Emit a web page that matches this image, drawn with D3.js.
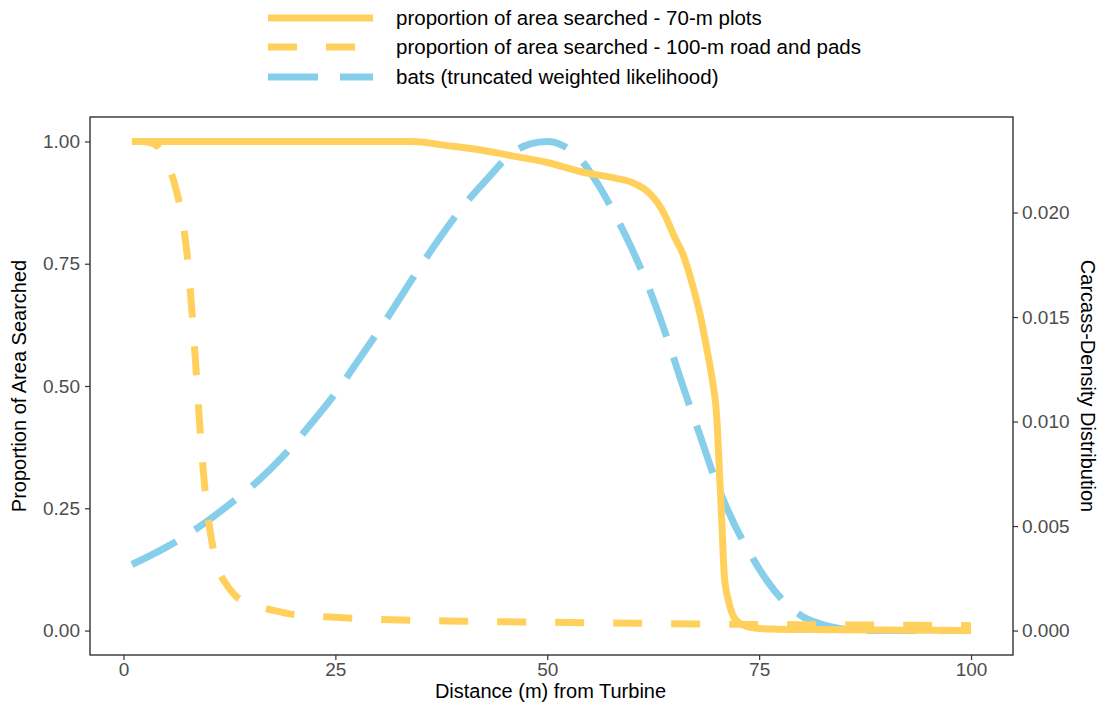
<!DOCTYPE html>
<html>
<head>
<meta charset="utf-8">
<script src="https://cdn.jsdelivr.net/npm/d3@7"></script>
<style>
  body { margin: 0; background: #fff; }
  text { font-family: "Liberation Sans", Arial, sans-serif; }
</style>
</head>
<body>
<script>
var w = 1107;
var h = 703;

// proportion of area searched - 70-m plots
var plotDist = [1, 34, 38, 42, 46, 50, 54, 58, 60, 62, 63, 64, 65, 66, 67, 68, 69, 69.5, 70, 70.3, 70.6, 70.9, 71.4, 72, 73, 75, 80, 90, 100];
var plotProp = [1, 1, 0.992, 0.983, 0.97, 0.957, 0.938, 0.925, 0.916, 0.895, 0.875, 0.845, 0.805, 0.77, 0.715, 0.648, 0.56, 0.51, 0.435, 0.33, 0.22, 0.11, 0.06, 0.028, 0.012, 0.004, 0.002, 0.001, 0];

// proportion of area searched - 100-m road and pads
var roadDist = [1, 2, 3, 4, 5, 6, 7, 7.5, 8, 8.5, 9, 9.5, 10, 10.5, 11, 12, 13, 14, 15, 17, 20, 25, 30, 40, 50, 60, 70, 80, 90, 100];
var roadProp = [1, 1, 0.998, 0.99, 0.96, 0.915, 0.835, 0.77, 0.67, 0.55, 0.42, 0.31, 0.23, 0.175, 0.135, 0.098, 0.075, 0.06, 0.052, 0.044, 0.033, 0.027, 0.023, 0.019, 0.017, 0.015, 0.013, 0.012, 0.011, 0.01];

// bats (truncated weighted likelihood) - carcass density
var batDist = [1, 5, 9, 13, 16, 19, 22, 25, 28, 31, 34, 37, 40, 43, 46, 48, 50, 52, 54, 56, 58, 60, 62, 64, 66, 68, 70, 72, 74, 76, 78, 80, 82, 84, 86, 88, 100];
var batDens = [0.00316, 0.00398, 0.00498, 0.0062, 0.00721, 0.00842, 0.00983, 0.01135, 0.0131, 0.01488, 0.01678, 0.0186, 0.02026, 0.02165, 0.02289, 0.02328, 0.0234, 0.02317, 0.02251, 0.02134, 0.01989, 0.01825, 0.01638, 0.01416, 0.0117, 0.00936, 0.00702, 0.00515, 0.00363, 0.00234, 0.00136, 0.0007, 0.00035, 0.00014, 0.00002, 0, 0];
var densMax = 0.0234;

var xTicks = [0, 25, 50, 75, 100];
var yTicks = [0, 0.25, 0.5, 0.75, 1];
var y2Ticks = [0, 0.005, 0.01, 0.015, 0.02];

var seriesNames = ["proportion of area searched - 70-m plots",
  "proportion of area searched - 100-m road and pads",
  "bats (truncated weighted likelihood)"];

var yellow = "#FFD15C";
var blue = "#87CEEB";

// panel edges (window.top is reserved, so prefixed names)
var pLeft = 90, pRight = 1013, pTop = 117, pBottom = 655;

var x = d3.scaleLinear().domain([-3.95, 104.95]).range([pLeft, pRight]);
var y = d3.scaleLinear().domain([-0.05, 1.05]).range([pBottom, pTop]);
var y2 = d3.scaleLinear().domain([-0.05 * densMax, 1.05 * densMax]).range([pBottom, pTop]);

var svg = d3.select("body").append("svg")
  .attr("width", w)
  .attr("height", h);

svg.append("defs").append("clipPath").attr("id", "panel")
  .append("rect")
  .attr("x", pLeft).attr("y", pTop)
  .attr("width", pRight - pLeft).attr("height", pBottom - pTop);

var g = svg.append("g").attr("clip-path", "url(#panel)");

var zip = function (xs, ys) {
  return xs.map(function (d, i) { return [d, ys[i]]; });
};

var lineL = d3.line()
  .x(function (d) { return x(d[0]); })
  .y(function (d) { return y(d[1]); })
  .curve(d3.curveMonotoneX);

var lineR = d3.line()
  .x(function (d) { return x(d[0]); })
  .y(function (d) { return y2(d[1]); })
  .curve(d3.curveMonotoneX);

// bats drawn first, yellow on top
g.append("path")
  .attr("d", lineR(zip(batDist, batDens)))
  .attr("fill", "none")
  .attr("stroke", blue)
  .attr("stroke-width", 7)
  .attr("stroke-dasharray", "50,22");

g.append("path")
  .attr("d", lineL(zip(roadDist, roadProp)))
  .attr("fill", "none")
  .attr("stroke", yellow)
  .attr("stroke-width", 7)
  .attr("stroke-dasharray", "29,29");

g.append("path")
  .attr("d", lineL(zip(plotDist, plotProp)))
  .attr("fill", "none")
  .attr("stroke", yellow)
  .attr("stroke-width", 7);

// panel border
svg.append("rect")
  .attr("x", pLeft).attr("y", pTop)
  .attr("width", pRight - pLeft).attr("height", pBottom - pTop)
  .attr("fill", "none")
  .attr("stroke", "#222")
  .attr("stroke-width", 1.3);

var styleAxis = function (sel) {
  sel.select(".domain").remove();
  sel.selectAll(".tick line").attr("stroke", "#333").attr("stroke-width", 1.2);
  sel.selectAll(".tick text")
    .attr("fill", "#4D4D4D")
    .style("font-size", "19px")
    .style("font-family", "'Liberation Sans', Arial, sans-serif");
};

svg.append("g")
  .attr("transform", "translate(0," + pBottom + ")")
  .call(d3.axisBottom(x).tickValues(xTicks).tickSize(5).tickPadding(3).tickFormat(d3.format("d")))
  .call(styleAxis);

svg.append("g")
  .attr("transform", "translate(" + pLeft + ",0)")
  .call(d3.axisLeft(y).tickValues(yTicks).tickSize(5).tickPadding(5).tickFormat(d3.format(".2f")))
  .call(styleAxis);

svg.append("g")
  .attr("transform", "translate(" + pRight + ",0)")
  .call(d3.axisRight(y2).tickValues(y2Ticks).tickSize(5).tickPadding(4).tickFormat(d3.format(".3f")))
  .call(styleAxis);

// axis titles
svg.append("text")
  .attr("x", (pLeft + pRight) / 2 - 1)
  .attr("y", 698)
  .attr("text-anchor", "middle")
  .style("font-size", "20px")
  .attr("fill", "#000")
  .text("Distance (m) from Turbine");

svg.append("text")
  .attr("transform", "translate(26," + ((pTop + pBottom) / 2) + ") rotate(-90)")
  .attr("text-anchor", "middle")
  .style("font-size", "20px")
  .attr("fill", "#000")
  .text("Proportion of Area Searched");

svg.append("text")
  .attr("transform", "translate(1081," + ((pTop + pBottom) / 2) + ") rotate(90)")
  .attr("text-anchor", "middle")
  .style("font-size", "20px")
  .attr("fill", "#000")
  .text("Carcass-Density Distribution");

// legend
var legendY = [18, 47, 77];
var legendColor = [yellow, yellow, blue];
var legendDash = [null, "29,29", "50,22"];

var leg = svg.append("g");
leg.selectAll("line")
  .data(seriesNames)
  .enter()
  .append("line")
  .attr("x1", 268).attr("x2", 373)
  .attr("y1", function (d, i) { return legendY[i]; })
  .attr("y2", function (d, i) { return legendY[i]; })
  .attr("stroke", function (d, i) { return legendColor[i]; })
  .attr("stroke-width", 7)
  .attr("stroke-dasharray", function (d, i) { return legendDash[i]; });

leg.selectAll("text")
  .data(seriesNames)
  .enter()
  .append("text")
  .attr("x", 396)
  .attr("y", function (d, i) { return legendY[i] + 7; })
  .style("font-size", "20.5px")
  .attr("fill", "#000")
  .text(function (d) { return d; });
</script>
</body>
</html>
